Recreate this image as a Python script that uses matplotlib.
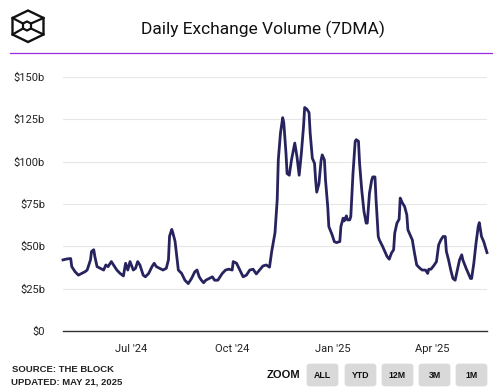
import numpy as np
import pandas as pd
import matplotlib
matplotlib.use("Agg")
import matplotlib.pyplot as plt
from matplotlib.patches import FancyBboxPatch, Polygon
from matplotlib.lines import Line2D

start_date = "2024-04-30"
day_offsets = [0, 4, 7, 8, 11, 14, 17, 20, 22, 25, 26, 28, 29, 31, 34, 37, 39, 41, 44, 46,
               49, 52, 55, 57, 59, 61, 64, 66, 68, 70, 73, 75, 78, 81, 83, 85, 88, 91, 94, 96,
               97, 99, 100, 102, 104, 105, 108, 111, 114, 117, 120, 122, 124, 126, 128, 130, 133, 136, 138, 141,
               145, 148, 151, 154, 155, 158, 161, 164, 167, 170, 173, 176, 179, 182, 185, 188, 190, 193, 195, 196,
               198, 200, 201, 203, 204, 206, 208, 211, 213, 215, 217, 219, 220, 222, 224, 225, 227, 229, 230, 231,
               233, 235, 236, 238, 239, 241, 242, 245, 247, 249, 252, 253, 255, 256, 258, 259, 261, 262, 264, 266,
               267, 269, 270, 272, 274, 276, 277, 279, 281, 282, 284, 285, 287, 288, 291, 293, 295, 297, 299, 301,
               302, 304, 306, 307, 309, 311, 313, 314, 316, 318, 320, 322, 325, 327, 330, 332, 333, 335, 338, 340,
               342, 344, 346, 348, 349, 351, 353, 355, 357, 359, 361, 363, 364, 367, 369, 371, 372, 374, 376, 378,
               379, 381, 383, 386]
volume_b = [42, 42.6, 42.8, 38, 35, 33, 34, 35, 36, 42, 47, 48, 44, 38, 37, 36, 39, 38, 41, 39,
            36, 34, 32.5, 40, 36, 41, 36, 37, 41, 39, 33, 32, 34, 38, 40, 38, 37, 36, 37, 42,
            56, 60, 58, 53, 42, 36, 34, 30, 28, 31, 35, 36, 32, 30, 28.5, 30, 31, 32, 30, 30,
            34, 36, 36.5, 36, 41, 40, 36, 32, 33, 36, 36.5, 33.7, 36, 38.4, 39, 37.7, 47, 58, 77.5, 101,
            117, 126, 123, 105, 93, 92, 101, 111, 103, 92, 105, 121, 132, 131, 129, 117, 102, 99, 89, 82,
            87, 101, 104, 101, 89, 73.5, 61.7, 56.8, 52.8, 52.2, 52.8, 61.7, 66.6, 65, 68, 65.6, 65.6, 67.6, 93, 112,
            113, 112, 99, 83, 70.6, 63.7, 63.7, 81.4, 89, 91, 91, 77.5, 55.8, 53.8, 49.9, 47, 44, 42.4, 46, 48,
            57.8, 63.7, 66, 78.5, 75.6, 73.5, 68.6, 59.7, 56.8, 53.8, 46, 39, 37, 36, 36, 34, 36.5, 36.5, 39, 41,
            50.9, 53.8, 55.8, 55.8, 47, 42, 36, 31, 30, 36, 42, 45, 42, 37, 34, 31, 31, 40, 51.8, 61.7,
            64, 55.8, 52.8, 46.3]
y_ticks = [0, 25, 50, 75, 100, 125, 150]
y_labels = ["$0", "$25b", "$50b", "$75b", "$100b", "$125b", "$150b"]
x_ticks = ["2024-07-01", "2024-10-01", "2025-01-01", "2025-04-01"]
x_labels = ["Jul '24", "Oct '24", "Jan '25", "Apr '25"]
zoom_buttons = ["ALL", "YTD", "12M", "3M", "1M"]

dates = pd.Timestamp(start_date) + pd.to_timedelta(day_offsets, unit="D")

W, H = 493, 391
fig = plt.figure(figsize=(W / 100, H / 100), dpi=100)
fig.patch.set_facecolor("white")
font = "Roboto"

ax = fig.add_axes([63 / W, 1 - 331 / H, (487 - 63) / W, (331 - 77) / H])
ax.plot(dates, volume_b, color="#27235e", lw=2.0, solid_joinstyle="round", clip_on=False, zorder=3)
ax.set_ylim(0, 150)
ax.set_xlim(pd.Timestamp(start_date), pd.Timestamp(start_date) + pd.Timedelta(days=386))
ax.set_yticks(y_ticks)
ax.set_yticklabels(y_labels, fontsize=8, fontfamily=font, color="#222222")
ax.set_xticks(pd.to_datetime(x_ticks))
ax.set_xticklabels(x_labels, fontsize=8, fontfamily=font, color="#222222")
ax.tick_params(axis="y", length=0, pad=13)
ax.tick_params(axis="x", length=0, pad=9)
ax.grid(axis="y", color="#e6e6e6", lw=0.8)
ax.set_axisbelow(True)
for s in ["top", "right", "left"]:
    ax.spines[s].set_visible(False)
ax.spines["bottom"].set_color("#333333")
ax.spines["bottom"].set_linewidth(1.0)
ax.spines["bottom"].set_zorder(4)

# Header
fig.text(263 / W, 1 - 29 / H, "Daily Exchange Volume (7DMA)", ha="center", va="center",
         fontsize=12.5, fontfamily=font, color="#111111")
fig.add_artist(Line2D([10 / W, 1], [1 - 53 / H, 1 - 53 / H], color="#9b2be0", lw=0.9,
                      transform=fig.transFigure))

# Logo
def P(x, y):
    return (x / W, 1 - y / H)

outer_px = [(28, 10.5), (43.5, 18), (43.5, 34.5), (28, 42), (12.5, 34.5), (12.5, 18)]
inner_px = [(27, 21.5), (31, 23.5), (31, 28.5), (27, 30.5), (23, 28.5), (23, 23.5)]
outer = [P(*p) for p in outer_px]
inner = [P(*p) for p in inner_px]
fig.add_artist(Polygon(outer, closed=True, fill=False, ec="#111111", lw=1.7, joinstyle="miter",
                       transform=fig.transFigure))
fig.add_artist(Polygon(inner, closed=True, fill=False, ec="#111111", lw=1.6, transform=fig.transFigure))
for i in [1, 2, 4, 5]:
    fig.add_artist(Line2D([outer[i][0], inner[i][0]], [outer[i][1], inner[i][1]], color="#111111",
                          lw=1.6, transform=fig.transFigure))

# Footer
fig.text(12 / W, 1 - 369 / H, "SOURCE: THE BLOCK", ha="left", va="center", fontsize=6.8,
         fontweight="bold", fontfamily="Liberation Sans", color="#222222")
fig.text(11 / W, 1 - 382 / H, "UPDATED: MAY 21, 2025", ha="left", va="center", fontsize=6.8,
         fontweight="bold", fontfamily="Liberation Sans", color="#222222")
fig.text(300 / W, 1 - 375 / H, "ZOOM", ha="right", va="center", fontsize=8,
         fontweight="bold", fontfamily="Liberation Sans", color="#111111")
bx = [307, 345, 382, 419, 456]
for x0, lab in zip(bx, zoom_buttons):
    fig.add_artist(FancyBboxPatch((x0 / W, 1 - 386 / H), 31 / W, 22 / H,
                                  boxstyle="round,pad=0,rounding_size=0.006",
                                  fc="#d9d9d9", ec="#d9d9d9", lw=0.5, transform=fig.transFigure))
    fig.text((x0 + 15.5) / W, 1 - 376 / H, lab, ha="center", va="center", fontsize=6.3,
             fontweight="bold", fontfamily="Liberation Sans", color="#111111")

fig.savefig("out.png", dpi=100, facecolor="white")
